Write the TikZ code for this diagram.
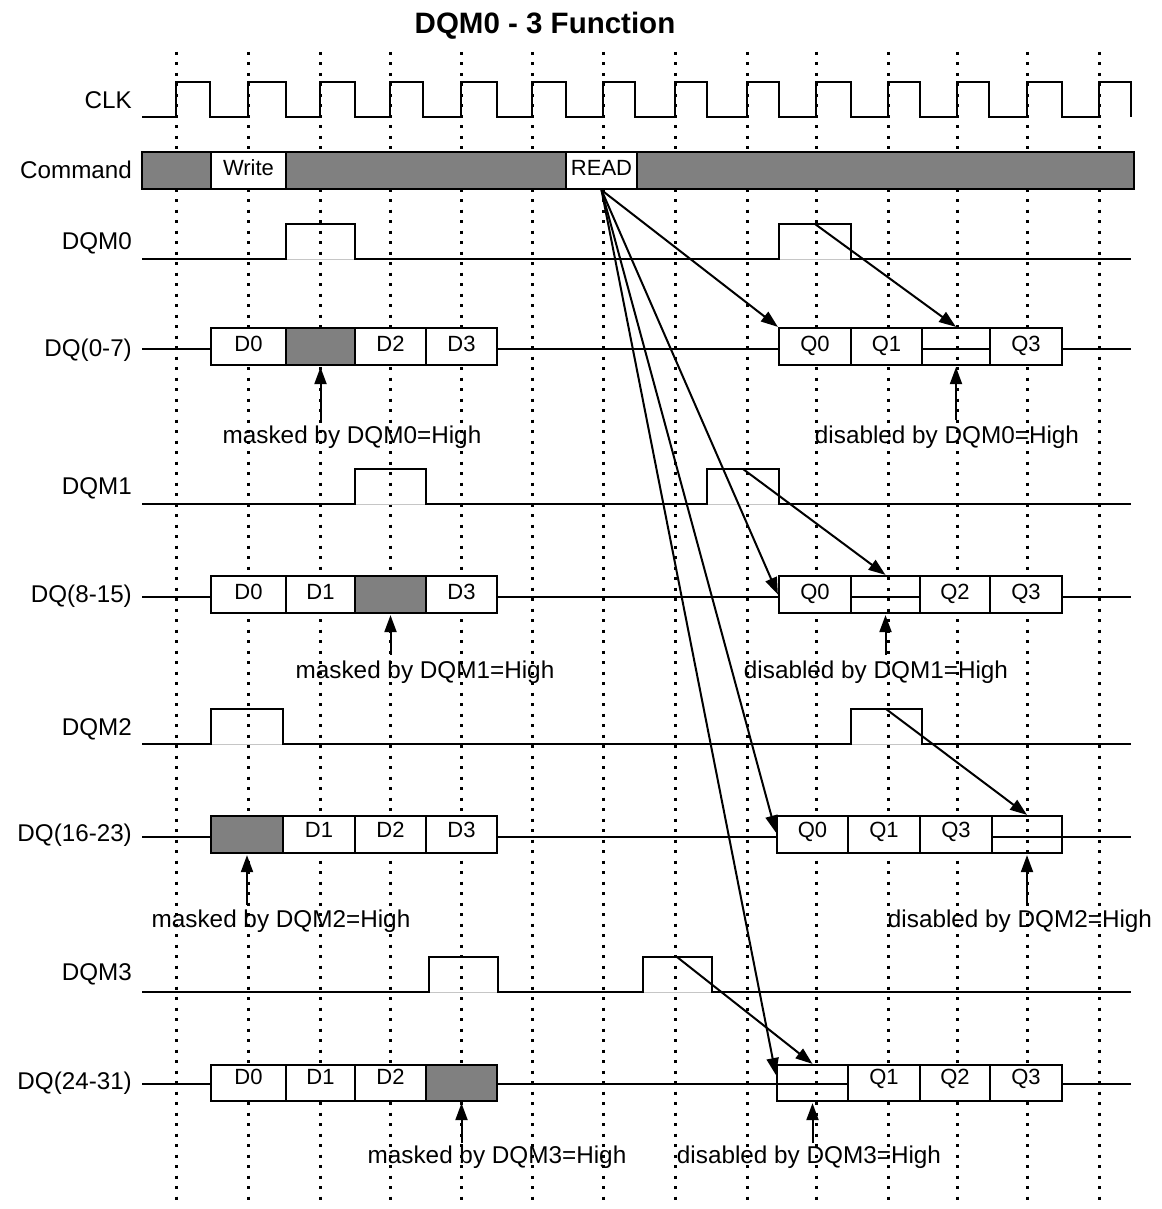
\documentclass[tikz,border=0pt]{standalone}
\usepackage{fontspec}
\setmainfont{Liberation Sans}
\usetikzlibrary{arrows.meta}
\newcommand\mkcell[6]{\node[#6,minimum width={(#3-#2)*1pt},minimum height={(#5-#4)*1pt}] (#1) at ({(#2+#3)/2},{(#4+#5)/2})}
\begin{document}
\begin{tikzpicture}[x=1pt,y=-1pt,
  sig/.style={line width=2.2pt, line join=miter},
  gridline/.style={line width=3pt, dash pattern=on 3pt off 7.5pt},
  cellbox/.style={draw, line width=2.2pt, fill=white, inner sep=0pt, font=\fontsize{22}{25}\selectfont},
  maskbox/.style={draw, line width=2.2pt, fill=gray, inner sep=0pt},
  disbox/.style={draw, line width=2.2pt, inner sep=0pt},
  cmdbar/.style={draw, line width=2.2pt, fill=gray, inner sep=0pt},
  row0/.style={text depth=5pt},
  row1/.style={text depth=5pt},
  row2/.style={text depth=9pt},
  row3/.style={text depth=12pt},
  lab/.style={anchor=base east, font=\fontsize{24.2}{28}\selectfont, inner sep=0pt},
  note/.style={anchor=base, font=\fontsize{24.3}{28}\selectfont, inner sep=0pt},
  arr/.style={line width=2pt, -{Triangle[length=17pt,width=12pt]}},
  shade/.style={line width=1pt, gray!45}
]
\useasboundingbox (0,0) rectangle (1161,1209);

% title
\node[anchor=base, font=\bfseries\fontsize{29.5}{34}\selectfont, inner sep=0pt] (title) at (545,34) {DQM0 - 3 Function};

% dotted grid
\foreach \x in {176,248,320,390,461,532,603,675,747,816,888,957,1027,1099}
  \draw[gridline] (\x,52) -- (\x,1203);

% CLK
\draw[sig] (142,117) \foreach \r/\f in {176/210,248/286,320/355,390/423,461/497,532/566,603/635,675/707,747/779,816/851,888/920,957/989,1027/1062,1099/1131} { -- (\r,117) -- (\r,82) -- (\f,82) -- (\f,117) };

% Command
\mkcell{cmd}{142}{1134}{152}{189}{cmdbar}{};
\mkcell{write}{211}{286}{152}{189}{cellbox,text depth=5pt}{Write};
\mkcell{read}{566}{637}{152}{189}{cellbox,text depth=5pt}{READ};

% DQM waveforms
\draw[shade] (286,259) -- (355,259) (779,259) -- (851,259);
\draw[sig] (142,259) -- (286,259) -- (286,224) -- (355,224) -- (355,259) -- (779,259) -- (779,224) -- (851,224) -- (851,259) -- (1131,259);
\draw[shade] (355,504) -- (426,504) (707,504) -- (779,504);
\draw[sig] (142,504) -- (355,504) -- (355,469) -- (426,469) -- (426,504) -- (707,504) -- (707,469) -- (779,469) -- (779,504) -- (1131,504);
\draw[shade] (211,744) -- (283,744) (851,744) -- (922,744);
\draw[sig] (142,744) -- (211,744) -- (211,709) -- (283,709) -- (283,744) -- (851,744) -- (851,709) -- (922,709) -- (922,744) -- (1131,744);
\draw[shade] (429,992) -- (498,992) (643,992) -- (712,992);
\draw[sig] (142,992) -- (429,992) -- (429,957) -- (498,957) -- (498,992) -- (643,992) -- (643,957) -- (712,957) -- (712,992) -- (1131,992);

% DQ base lines
\draw[sig] (142,349) -- (1131,349);
\draw[sig] (142,597) -- (1131,597);
\draw[sig] (142,837) -- (1131,837);
\draw[sig] (142,1084) -- (1131,1084);

% DQ(0-7)
\mkcell{d00}{211}{286}{328}{365}{cellbox,row0}{D0};
\mkcell{d01}{286}{355}{328}{365}{maskbox}{};
\mkcell{d02}{355}{426}{328}{365}{cellbox,row0}{D2};
\mkcell{d03}{426}{497}{328}{365}{cellbox,row0}{D3};
\mkcell{q00}{779}{851}{328}{365}{cellbox,row0}{Q0};
\mkcell{q01}{851}{922}{328}{365}{cellbox,row0}{Q1};
\mkcell{dis0}{922}{990}{328}{365}{disbox}{};
\mkcell{q03}{990}{1062}{328}{365}{cellbox,row0}{Q3};

% DQ(8-15)
\mkcell{d10}{211}{286}{576}{613}{cellbox,row1}{D0};
\mkcell{d11}{286}{355}{576}{613}{cellbox,row1}{D1};
\mkcell{d12}{355}{426}{576}{613}{maskbox}{};
\mkcell{d13}{426}{497}{576}{613}{cellbox,row1}{D3};
\mkcell{q10}{779}{851}{576}{613}{cellbox,row1}{Q0};
\mkcell{dis1}{851}{920}{576}{613}{disbox}{};
\mkcell{q12}{920}{990}{576}{613}{cellbox,row1}{Q2};
\mkcell{q13}{990}{1062}{576}{613}{cellbox,row1}{Q3};

% DQ(16-23)
\mkcell{d20}{211}{283}{816}{853}{maskbox}{};
\mkcell{d21}{283}{355}{816}{853}{cellbox,row2}{D1};
\mkcell{d22}{355}{426}{816}{853}{cellbox,row2}{D2};
\mkcell{d23}{426}{497}{816}{853}{cellbox,row2}{D3};
\mkcell{q20}{777}{848}{816}{853}{cellbox,row2}{Q0};
\mkcell{q21}{848}{920}{816}{853}{cellbox,row2}{Q1};
\mkcell{q22}{920}{992}{816}{853}{cellbox,row2}{Q3};
\mkcell{dis2}{992}{1062}{816}{853}{disbox}{};

% DQ(24-31)
\mkcell{d30}{211}{286}{1065}{1101}{cellbox,row3}{D0};
\mkcell{d31}{286}{355}{1065}{1101}{cellbox,row3}{D1};
\mkcell{d32}{355}{426}{1065}{1101}{cellbox,row3}{D2};
\mkcell{d33}{426}{497}{1065}{1101}{maskbox}{};
\mkcell{dis3}{777}{848}{1065}{1101}{disbox}{};
\mkcell{q31}{848}{920}{1065}{1101}{cellbox,row3}{Q1};
\mkcell{q32}{920}{990}{1065}{1101}{cellbox,row3}{Q2};
\mkcell{q33}{990}{1062}{1065}{1101}{cellbox,row3}{Q3};

% signal labels
\node[lab] (lclk) at (132,108.5) {CLK};
\node[lab] (lcmd) at (132,178.5) {Command};
\node[lab] (ldqm0) at (132,249.5) {DQM0};
\node[lab] (ldq0) at (132,356) {DQ(0-7)};
\node[lab] (ldqm1) at (132,494) {DQM1};
\node[lab] (ldq1) at (132,602) {DQ(8-15)};
\node[lab] (ldqm2) at (132,735) {DQM2};
\node[lab] (ldq2) at (132,841) {DQ(16-23)};
\node[lab] (ldqm3) at (132,980) {DQM3};
\node[lab] (ldq3) at (132,1089) {DQ(24-31)};

% notes
\node[note] (m0) at (352,443) {masked by DQM0=High};
\node[note] (x0) at (947,443) {disabled by DQM0=High};
\node[note] (m1) at (425,678) {masked by DQM1=High};
\node[note] (x1) at (876,678) {disabled by DQM1=High};
\node[note] (m2) at (281,927) {masked by DQM2=High};
\node[note] (x2) at (1020,927) {disabled by DQM2=High};
\node[note] (m3) at (497,1163) {masked by DQM3=High};
\node[note] (x3) at (809,1163) {disabled by DQM3=High};

% note arrows
\coordinate (m0s) at (320.5,420);
\coordinate (x0s) at (956,420);
\coordinate (m1s) at (390.5,655);
\coordinate (x1s) at (885.5,655);
\coordinate (m2s) at (247,905);
\coordinate (x2s) at (1027,905);
\coordinate (m3s) at (461.5,1143);
\coordinate (x3s) at (812.5,1143);
\draw[arr] (m0s) -- ([yshift=-1pt]d01.south);
\draw[arr] (x0s) -- ([yshift=-1pt]dis0.south);
\draw[arr] (m1s) -- ([yshift=-1pt]d12.south);
\draw[arr] (x1s) -- ([yshift=-1pt]dis1.south);
\draw[arr] (m2s) -- ([yshift=-1pt]d20.south);
\draw[arr] (x2s) -- ([yshift=-1pt]dis2.south);
\draw[arr] (m3s) -- ([yshift=-1pt]d33.south);
\draw[arr] (x3s) -- ([yshift=-1pt]dis3.south);

% READ arrows
\draw[arr] (read.south) -- (q00.north west);
\draw[arr] (read.south) -- (q10.west);
\draw[arr] (read.south) -- ([yshift=2pt]q20.west);
\draw[arr] (read.south) -- ([yshift=8pt]dis3.west);

% DQM arrows
\coordinate (p0) at (815,224);
\coordinate (p1) at (743,469);
\coordinate (p2) at (886,709);
\coordinate (p3) at (677,957);
\draw[arr] (p0) -- (dis0.north);
\draw[arr] (p1) -- (dis1.north);
\draw[arr] (p2) -- (dis2.north);
\draw[arr] (p3) -- (dis3.north);
\end{tikzpicture}
\end{document}
